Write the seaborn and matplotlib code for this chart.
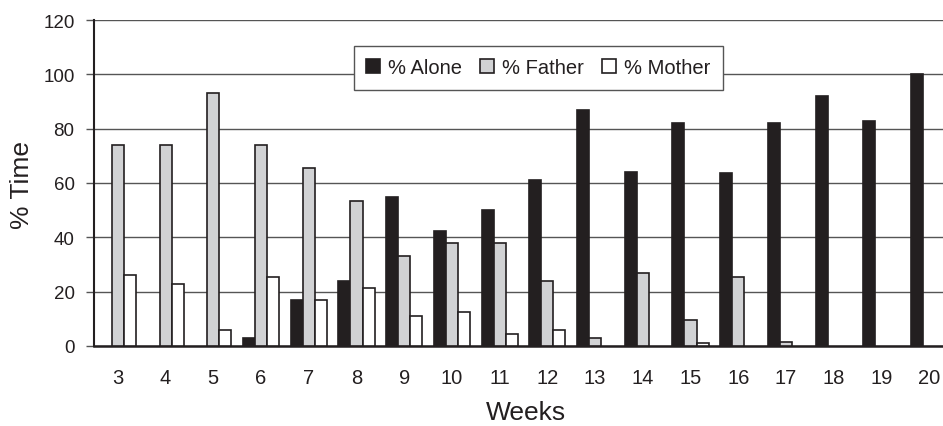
import matplotlib
matplotlib.use("Agg")
import matplotlib.pyplot as plt
import seaborn as sns
import pandas as pd

weeks = [str(w) for w in range(3, 21)]
alone = [0, 0, 0, 3, 17, 24, 55, 42.5, 50, 61, 87, 64, 82, 63.5, 82, 92, 83, 100]
father = [74, 74, 93, 74, 65.5, 53.5, 33, 38, 38, 24, 3, 27, 9.5, 25.5, 1.5, 0, 0, 0]
mother = [26, 23, 6, 25.5, 17, 21.5, 11, 12.5, 4.5, 6, 0, 0, 1, 0, 0, 0, 0, 0]
series = ["% Alone", "% Father", "% Mother"]
colors = ["#231f20", "#d1d2d4", "#ffffff"]

rows = []
for name, vals in zip(series, [alone, father, mother]):
    for w, v in zip(weeks, vals):
        rows.append({"Weeks": w, "Series": name, "Value": v})
df = pd.DataFrame(rows)

sns.set_theme(style="white")
plt.rcParams["font.family"] = ["Liberation Sans", "DejaVu Sans"]

W, H = 943, 427
fig = plt.figure(figsize=(W / 100, H / 100), dpi=100)
# plot area runs a little past the right edge of the canvas
ax = fig.add_axes([94 / W, 1 - 347 / H, 859 / W, 326 / H])

sns.barplot(data=df, x="Weeks", y="Value", hue="Series", order=weeks,
            hue_order=series, palette=colors, width=0.76, gap=0,
            edgecolor="#231f20", linewidth=1.2, saturation=1, ax=ax,
            zorder=3)

ax.set_ylim(0, 120)
ax.set_yticks(range(0, 121, 20))
ax.set_xlim(-0.5, len(weeks) - 0.5)
ax.yaxis.grid(True, color="#555555", linewidth=1.0, zorder=0)
ax.set_axisbelow(True)

for side in ["top", "right"]:
    ax.spines[side].set_visible(False)
ax.spines["left"].set_color("#231f20")
ax.spines["left"].set_linewidth(1.5)
ax.spines["bottom"].set_color("#231f20")
ax.spines["bottom"].set_linewidth(1.8)

ax.tick_params(axis="y", which="both", left=True, length=6, width=1,
               color="#555555", labelsize=13.5, labelcolor="#231f20", pad=8)
ax.tick_params(axis="x", bottom=False, labelsize=14.5, labelcolor="#231f20",
               pad=10)

ax.set_xlabel("")
ax.set_ylabel("")
fig.text(526 / W, 1 - 413 / H, "Weeks", fontsize=19, color="#231f20",
         ha="center", va="center")
fig.text(22 / W, 1 - 185 / H, "% Time", fontsize=19, color="#231f20",
         ha="center", va="center", rotation=90)

leg = ax.legend(loc="center", bbox_to_anchor=(0.517, 0.853), ncol=3,
                fontsize=14.5, frameon=True, fancybox=False, framealpha=1,
                handlelength=0.7, handleheight=0.7, handletextpad=0.4,
                columnspacing=0.9, borderpad=0.6, borderaxespad=0)
leg.get_frame().set_edgecolor("#555555")
leg.get_frame().set_linewidth(1.0)
leg.set_zorder(5)
for t in leg.get_texts():
    t.set_color("#231f20")

# empty bars leave no outline on the baseline (legend keys are already copied)
for container in ax.containers:
    for patch in container:
        if patch.get_height() == 0:
            patch.set_visible(False)

fig.savefig("out.png", dpi=100)
